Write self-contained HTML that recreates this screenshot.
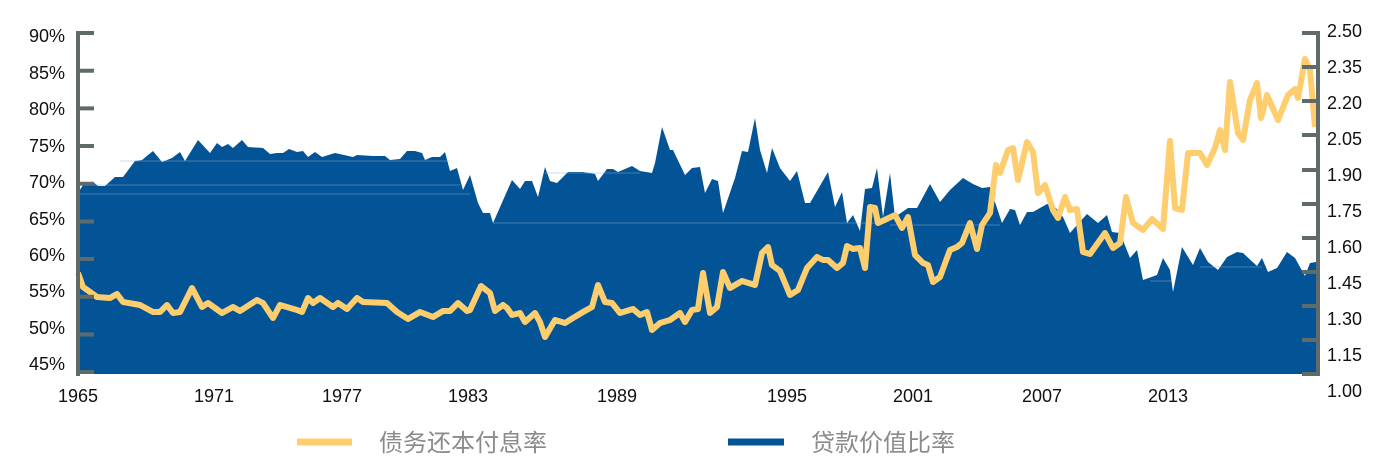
<!DOCTYPE html>
<html><head><meta charset="utf-8"><style>
body{margin:0;background:#fff;width:1384px;height:468px;overflow:hidden}
svg{display:block}
.t{font-family:"Liberation Sans","DejaVu Sans",sans-serif;font-size:18px;fill:#111}
.lg{font-family:"Liberation Sans","Noto Sans CJK SC",sans-serif;font-size:24px;fill:#8a8a8a}
</style></head><body>
<svg width="1384" height="468" viewBox="0 0 1384 468">
<polygon fill="#035496" points="78,374 78,193 83,185 93,182 98,186 105,186 115,177 123,177 135,161 142,160 153,151 162,162 172,158 180,152 185,161 198,140 210,153 217,143 222,147 228,144 233,148 242,140 248,147 263,148 270,154 277,153 283,153 289,149 297,152 303,151 308,157 315,152 322,157 335,153 353,157 357,155 373,156 385,156 390,160 400,159 407,151 415,151 422,153 425,160 432,157 440,157 445,152 450,171 457,168 463,190 470,175 478,203 483,213 490,213 493,223 512,180 520,189 525,181 532,181 538,197 545,167 550,181 557,183 568,172 583,172 595,174 598,181 607,169 613,169 618,172 632,166 640,171 652,173 655,163 662,127 670,150 673,150 685,175 692,168 700,167 705,193 712,179 718,181 723,213 735,178 742,151 748,152 755,118 760,150 767,173 772,148 780,168 790,181 797,171 805,203 810,203 828,172 835,207 842,192 847,223 853,215 860,231 865,189 872,188 877,168 883,217 890,173 895,217 908,208 917,208 930,184 940,202 950,190 963,178 973,184 982,188 990,187 1002,223 1010,209 1015,210 1020,225 1027,212 1033,212 1047,204 1055,207 1063,217 1070,233 1077,225 1087,214 1098,223 1107,215 1112,232 1120,233 1130,258 1137,250 1143,280 1157,275 1163,258 1170,270 1173,292 1182,247 1193,265 1200,248 1208,262 1218,270 1227,257 1237,252 1243,253 1257,266 1262,258 1268,272 1277,268 1287,252 1295,258 1305,276 1310,263 1316,262 1316,374"/>
<g stroke="#8fb0cf" stroke-width="1" opacity="0.45">
<line x1="78" y1="185" x2="460" y2="185"/><line x1="78" y1="194" x2="470" y2="194"/><line x1="120" y1="161" x2="450" y2="161"/>
<line x1="493" y1="223" x2="880" y2="223"/><line x1="545" y1="173" x2="640" y2="173"/><line x1="890" y1="225" x2="1000" y2="225"/>
<line x1="1150" y1="281" x2="1172" y2="281"/><line x1="1200" y1="267" x2="1262" y2="267"/>
</g>
<polyline fill="none" stroke="#fdcd6e" stroke-width="6" stroke-linejoin="round" points="78,273 83,287 97,297 110,298 117,294 123,302 140,305 153,312 160,312 167,305 173,313 180,312 192,288 202,307 208,303 222,313 233,307 240,311 257,300 263,303 273,318 280,305 297,310 302,312 308,298 313,303 320,298 333,307 338,303 347,309 357,298 363,302 387,303 397,312 408,319 420,312 433,317 443,311 450,311 458,303 467,311 470,310 481,286 490,293 495,311 503,305 507,308 512,315 520,313 525,322 535,313 540,322 545,337 555,320 565,323 573,318 583,312 592,307 598,285 605,302 612,303 620,313 633,309 640,315 647,312 652,330 660,323 670,320 680,313 685,322 692,310 698,309 703,273 710,313 717,307 723,272 730,288 742,281 755,285 762,253 768,247 772,265 780,271 790,295 798,290 807,268 817,257 823,260 828,260 837,268 843,263 847,246 853,249 860,248 865,268 870,207 875,208 878,223 893,216 895,215 902,228 908,217 915,255 923,263 928,265 933,282 940,277 950,250 957,247 962,243 970,223 977,249 982,225 990,213 996,165 1000,173 1008,150 1013,148 1018,180 1027,142 1033,152 1038,193 1045,185 1053,210 1058,218 1065,197 1070,210 1077,209 1083,252 1090,254 1105,233 1113,248 1120,243 1126,197 1133,223 1143,230 1152,219 1163,229 1170,141 1175,208 1182,210 1188,153 1200,153 1207,165 1215,148 1220,130 1225,150 1230,82 1238,133 1243,140 1250,100 1257,83 1261,118 1267,95 1278,120 1288,95 1295,89 1298,98 1305,59 1310,70 1315,127"/>
<g stroke="#5f6b6b" stroke-width="4">
<line x1="78" y1="32" x2="78" y2="376"/>
<line x1="76" y1="33" x2="94" y2="33"/><line x1="76" y1="70.7" x2="94" y2="70.7"/><line x1="76" y1="108.4" x2="94" y2="108.4"/><line x1="76" y1="146" x2="94" y2="146"/><line x1="76" y1="183.8" x2="94" y2="183.8"/><line x1="76" y1="221.5" x2="94" y2="221.5"/><line x1="76" y1="259" x2="94" y2="259"/><line x1="76" y1="296.8" x2="94" y2="296.8"/><line x1="76" y1="334.5" x2="94" y2="334.5"/><line x1="76" y1="372" x2="94" y2="372"/>
<line x1="1318" y1="32" x2="1318" y2="376"/>
<line x1="1302" y1="33" x2="1320" y2="33"/><line x1="1302" y1="67" x2="1320" y2="67"/><line x1="1302" y1="101" x2="1320" y2="101"/><line x1="1302" y1="135" x2="1320" y2="135"/><line x1="1302" y1="170" x2="1320" y2="170"/><line x1="1302" y1="204" x2="1320" y2="204"/><line x1="1302" y1="238" x2="1320" y2="238"/><line x1="1302" y1="272" x2="1320" y2="272"/><line x1="1302" y1="306" x2="1320" y2="306"/><line x1="1302" y1="340" x2="1320" y2="340"/><line x1="1302" y1="374" x2="1320" y2="374"/>
</g>
<g class="t" text-anchor="end">
<text x="65" y="42">90%</text><text x="65" y="79">85%</text><text x="65" y="115">80%</text><text x="65" y="152">75%</text><text x="65" y="188">70%</text><text x="65" y="225">65%</text><text x="65" y="261">60%</text><text x="65" y="297">55%</text><text x="65" y="334">50%</text><text x="65" y="370">45%</text>
</g>
<g class="t">
<text x="1327" y="37">2.50</text><text x="1327" y="73">2.35</text><text x="1327" y="109">2.20</text><text x="1327" y="145">2.05</text><text x="1327" y="181">1.90</text><text x="1327" y="217">1.75</text><text x="1327" y="253">1.60</text><text x="1327" y="289">1.45</text><text x="1327" y="325">1.30</text><text x="1327" y="361">1.15</text><text x="1327" y="397">1.00</text>
</g>
<g class="t" text-anchor="middle">
<text x="78" y="402">1965</text><text x="214" y="402">1971</text><text x="342" y="402">1977</text><text x="468" y="402">1983</text><text x="617" y="402">1989</text><text x="787" y="402">1995</text><text x="913" y="402">2001</text><text x="1042" y="402">2007</text><text x="1168" y="402">2013</text>
</g>
<line x1="297" y1="442" x2="352" y2="442" stroke="#fdcd6e" stroke-width="7"/>
<text class="lg" x="379" y="451">债务还本付息率</text>
<line x1="728" y1="442" x2="784" y2="442" stroke="#035496" stroke-width="7"/>
<text class="lg" x="811" y="451">贷款价值比率</text>
</svg>
</body></html>
